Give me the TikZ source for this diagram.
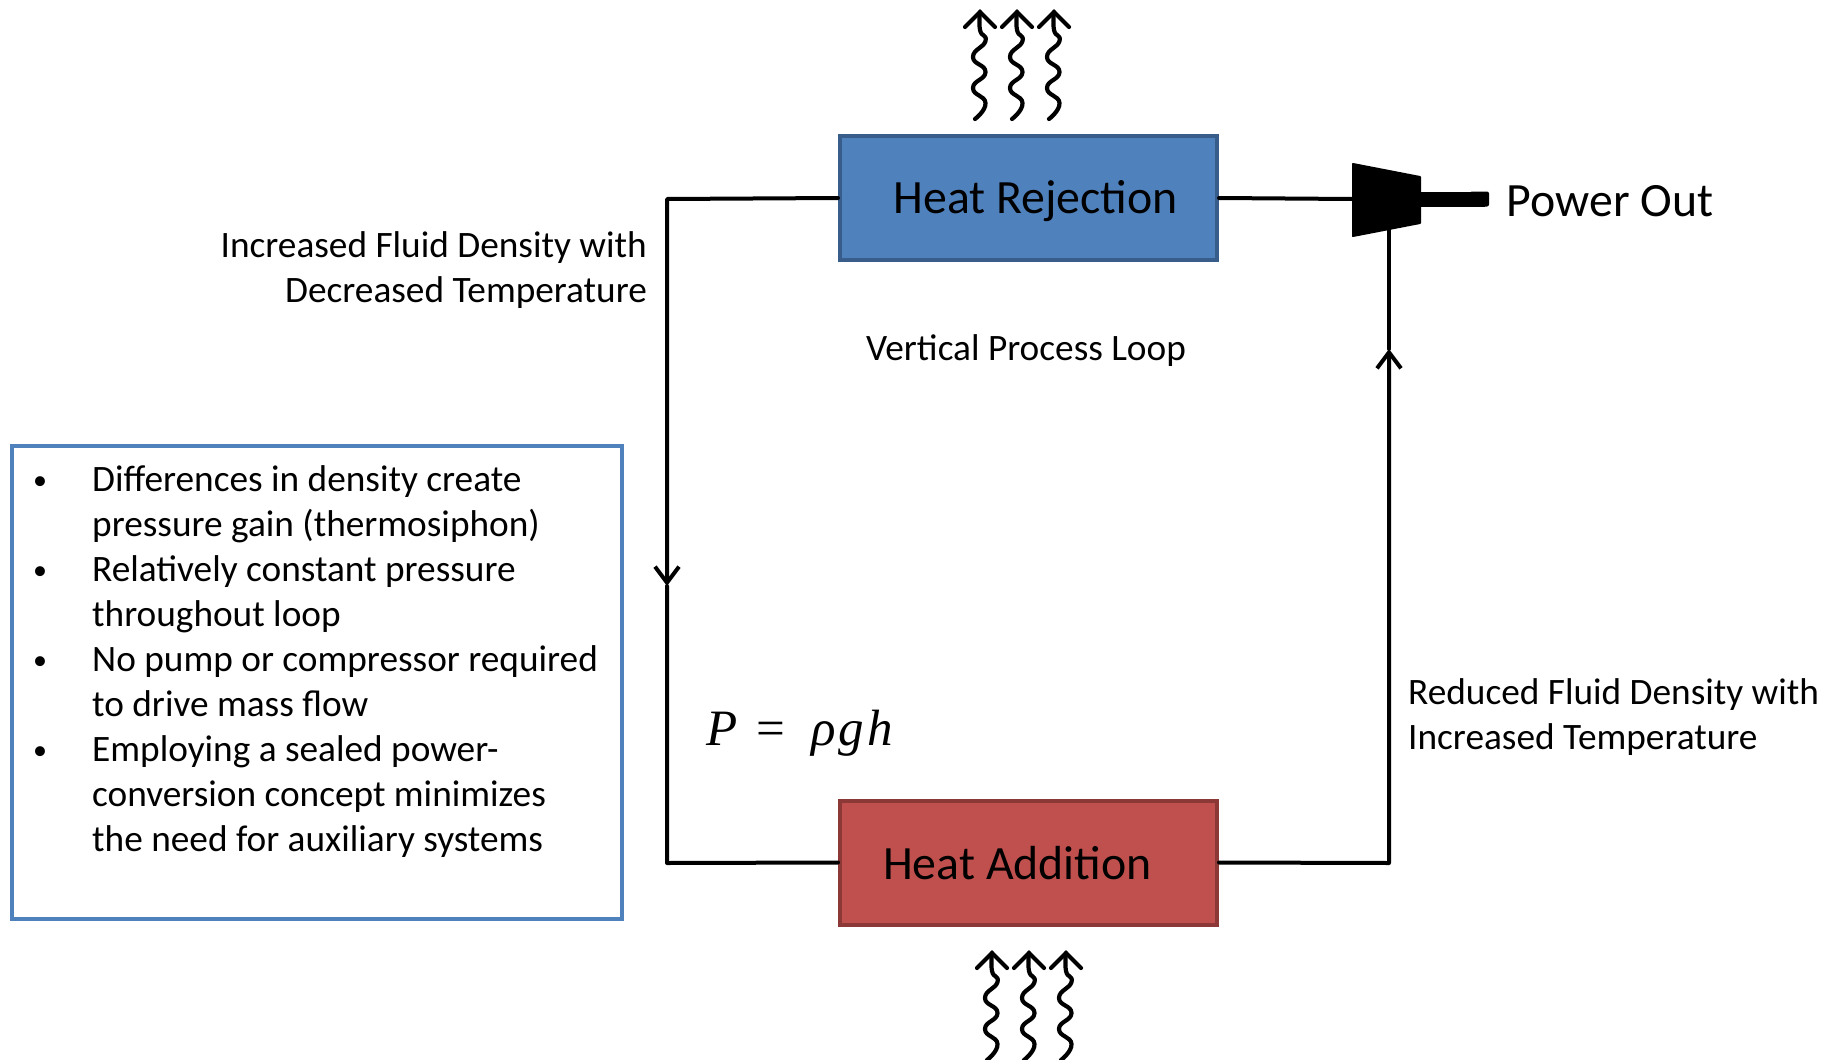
\documentclass[tikz,border=0pt]{standalone}
\usepackage{fontspec}
\setmainfont{Carlito}
\newfontfamily\mathlike[ItalicFont=Liberation Serif Italic]{Liberation Serif}
\usetikzlibrary{arrows.meta}
\tikzset{
  pipe/.style={line width=4pt,line join=round,line cap=round,black},
  flowpipe/.style={pipe,-{Straight Barb[length=16pt,width=24pt,line width=4pt]}},
  unitbox/.style={rectangle,draw,line width=4pt,minimum width=377pt,minimum height=124pt,inner sep=0pt},
  bigtext/.style={font=\fontsize{47.8}{56}\selectfont,inner sep=0pt},
  smalltext/.style={font=\fontsize{37.3}{45}\selectfont,inner sep=0pt},
  bulletmark/.style={},
  wavy/.pic={
    \draw[line width=4.2pt,line cap=round,line join=round]
      plot[smooth,tension=0.9] coordinates {(0,12) (0,30) (5.5,41) (-7,57) (5.5,72) (-7,88) (5.5,103) (-5,119)};
    \draw[line width=4.2pt,line cap=round,line join=miter]
      (-15,27) -- (0,12) -- (15,27);
  }
}
\definecolor{rejfill}{HTML}{4F81BD}
\definecolor{rejline}{HTML}{385D8A}
\definecolor{addfill}{HTML}{C0504D}
\definecolor{addline}{HTML}{8C3836}
\begin{document}
\begin{tikzpicture}[x=1pt,y=-1pt]
\useasboundingbox (0,0) rectangle (1837,1060);
\clip (0,0) rectangle (1837,1060);

% units
\node[unitbox,fill=rejfill,draw=rejline] (rej) at (1028.5,198) {};
\node[bigtext,anchor=center] (rejt) at (1035.5,201) {Heat Rejection};
\node[unitbox,fill=addfill,draw=addline] (add) at (1028.5,862.5) {};
\node[bigtext,anchor=center] (addt) at (1017.5,863) {Heat Addition};

% turbine
\coordinate (tl) at (667,199);
\coordinate (la) at (667,586);
\coordinate (bl) at (667,863);
\coordinate (br) at (1389,863);
\coordinate (ra) at (1389,349);
\coordinate (tin) at (1389,228);
\coordinate (tout) at (1352,199);
\coordinate (sh) at (1421,199);
\coordinate (she) at (1485,199);
\draw[line width=15pt,line cap=butt] (sh) -- (she);
\fill[rounded corners=2pt] (1489,191.5) rectangle (1470,206.5);
\fill[line join=round,draw,line width=2pt] (1353,164) -- (1420,177) -- (1420,223) -- (1353,236) -- cycle;

% loop
\draw[pipe] (rej.east) -- (tout);
\draw[flowpipe] (rej.west) -- (tl) -- (la);
\draw[pipe] (la) -- (bl) -- (add.west);
\draw[flowpipe] (add.east) -- (br) -- (ra);
\draw[pipe] (ra) -- (tin);

% heat arrows
\foreach \xx in {980,1017,1054} \pic at (\xx,0) {wavy};
\foreach \xx in {992,1029,1066} \pic at (\xx,941) {wavy};

% labels
\node[smalltext,align=right,anchor=east] (lden) at (647,270.5) {Increased Fluid Density with\\Decreased Temperature};
\node[smalltext,anchor=center] (vpl) at (1026,351) {Vertical Process Loop};
\node[smalltext,align=left,anchor=west] (rden) at (1408,717) {Reduced Fluid Density with\\Increased Temperature};
\node[bigtext,anchor=west] (pout) at (1506.5,201.5) {Power Out};
\node[inner sep=0pt,anchor=west,font=\fontsize{51}{56}\selectfont\mathlike] (eq) at (706,733) {\textit{P}\hspace{19pt}=\hspace{26pt}\textit{ρ}\hspace{3pt}\textit{g}\hspace{3pt}\textit{h}};

% text box
\node[rectangle,draw=rejfill,line width=4pt,minimum width=610pt,minimum height=473pt,inner sep=0pt] (note) at (317,682.5) {};
\node[smalltext,anchor=north west] (notet) at (33,460) {%
  \begin{tabular}{@{}p{59pt}@{}l@{}}
  \raisebox{2pt}{\fontsize{28}{45}\selectfont •} & Differences in density create\\
    & pressure gain (thermosiphon)\\
  \raisebox{2pt}{\fontsize{28}{45}\selectfont •} & Relatively constant pressure\\
    & throughout loop\\
  \raisebox{2pt}{\fontsize{28}{45}\selectfont •} & No pump or compressor required\\
    & to drive mass flow\\
  \raisebox{2pt}{\fontsize{28}{45}\selectfont •} & Employing a sealed power-\\
    & conversion concept minimizes\\
    & the need for auxiliary systems
  \end{tabular}};
\end{tikzpicture}
\end{document}
